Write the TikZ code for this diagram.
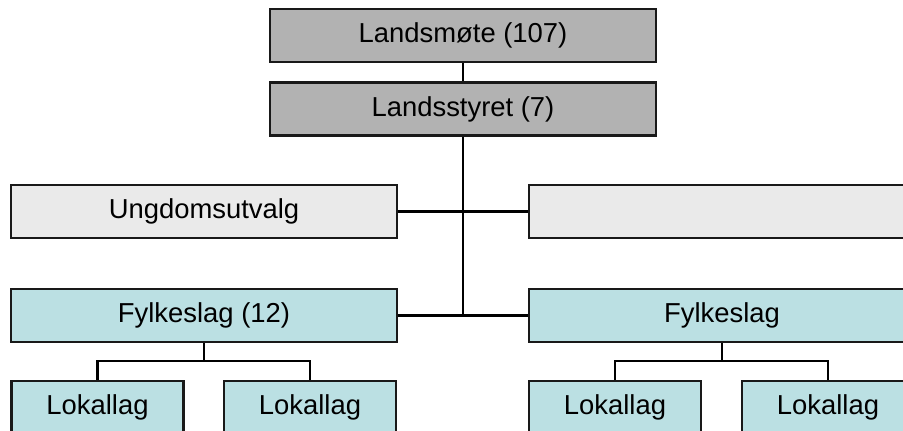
\documentclass[tikz,border=0pt]{standalone}
\usepackage{fontspec}
\setmainfont{Liberation Sans}
\usepackage{tikz}
\usetikzlibrary{positioning}
\definecolor{styregrey}{RGB}{178,178,178}
\definecolor{utvalggrey}{RGB}{234,234,234}
\definecolor{lagcyan}{RGB}{187,224,227}

\begin{document}
\begin{tikzpicture}[
    % GLOBAL CFG
    x=0.02cm, y=-0.02cm,
    font=\fontsize{15.6pt}{18pt}\selectfont,
    line width=1.3pt,
    % Styles
    box/.style={% For all boxes
        rectangle,
        draw=black!90,
        line width=1.3pt,
        minimum height=1.06cm,
        inner sep=0pt,
        },
    wide/.style={% Long boxes
        box,
        minimum width=7.72cm,
        },
    narrow/.style={% Local boxes
        box,
        minimum width=3.44cm,
        },
    ]

    % Fix the frame
    \useasboundingbox (0,0) rectangle (903,431);
    \clip (0,0) rectangle (903,431);

    % Top of the tree
    \node [wide, fill=styregrey] (mote) at (463,35.5) {Landsmøte (107)};
    \node [wide, fill=styregrey] (styre) at (463,109) {Landsstyret (7)};

    % Side boxes
    \node [wide, fill=utvalggrey] (ungdom) at (204,211.5) {Ungdomsutvalg};
    \node [wide, fill=utvalggrey] (tom) at (722,211.5) {};

    % County boxes
    \node [wide, fill=lagcyan] (fylke1) at (204,315.5) {Fylkeslag (12)};
    \node [wide, fill=lagcyan] (fylke2) at (722,315.5) {Fylkeslag};

    % Local boxes
    \node [narrow, fill=lagcyan] (lok1) at (97.5,407.5) {Lokallag};
    \node [narrow, fill=lagcyan] (lok2) at (310,407.5) {Lokallag};
    \node [narrow, fill=lagcyan] (lok3) at (615,407.5) {Lokallag};
    \node [narrow, fill=lagcyan] (lok4) at (828,407.5) {Lokallag};

    % Connect all
    \draw (mote) -- (styre);
    \draw (styre.south) -- (styre.south |- fylke1.east);
    \draw (ungdom) -- (tom);
    \draw (fylke1) -- (fylke2);

    % Down to the locals
    \draw (fylke1.south) -- ++(0,18) coordinate (split1);
    \draw (lok1.north) |- (split1) -| (lok2.north);
    \draw (fylke2.south) -- ++(0,18) coordinate (split2);
    \draw (lok3.north) |- (split2) -| (lok4.north);

\end{tikzpicture}
\end{document}
